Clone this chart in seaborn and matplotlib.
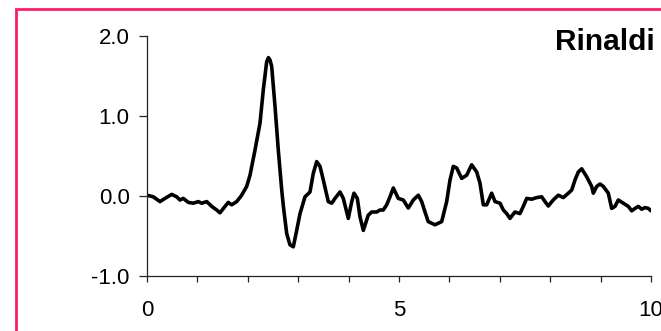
import matplotlib
matplotlib.use("Agg")
import matplotlib.pyplot as plt
import matplotlib.patches as mpatches
import numpy as np
import pandas as pd
import seaborn as sns

# Spectrum trace
x_vals = [0.0, 0.125, 0.258, 0.357, 0.49, 0.589, 0.655, 0.72, 0.82, 0.919,
          1.018, 1.085, 1.185, 1.284, 1.383, 1.448, 1.548, 1.613, 1.68, 1.78,
          1.879, 1.978, 2.044, 2.143, 2.242, 2.308, 2.375, 2.41, 2.44, 2.474,
          2.54, 2.605, 2.673, 2.706, 2.772, 2.837, 2.903, 2.97, 3.036, 3.135,
          3.234, 3.30, 3.367, 3.433, 3.498, 3.597, 3.665, 3.73, 3.829, 3.895,
          3.994, 4.062, 4.107, 4.173, 4.226, 4.292, 4.39, 4.458, 4.558, 4.623,
          4.688, 4.756, 4.821, 4.887, 4.986, 5.085, 5.185, 5.284, 5.383, 5.45,
          5.516, 5.58, 5.714, 5.847, 5.946, 6.012, 6.077, 6.145, 6.244, 6.343,
          6.442, 6.542, 6.607, 6.673, 6.74, 6.839, 6.905, 7.004, 7.07, 7.137,
          7.202, 7.30, 7.40, 7.466, 7.534, 7.633, 7.732, 7.831, 7.897, 7.962,
          8.06, 8.161, 8.26, 8.359, 8.427, 8.492, 8.558, 8.625, 8.724, 8.823,
          8.855, 8.923, 8.988, 9.054, 9.153, 9.22, 9.286, 9.351, 9.45, 9.55,
          9.617, 9.683, 9.748, 9.815, 9.881, 9.947, 10.0]
y_vals = [0.01, -0.01, -0.07, -0.03, 0.02, -0.01, -0.05, -0.03, -0.08, -0.09,
          -0.07, -0.09, -0.07, -0.13, -0.175, -0.21, -0.13, -0.08, -0.11, -0.07,
          0.01, 0.12, 0.26, 0.575, 0.91, 1.33, 1.68, 1.73, 1.70, 1.62,
          1.12, 0.575, 0.075, -0.13, -0.47, -0.61, -0.635, -0.43, -0.22, -0.01,
          0.05, 0.285, 0.43, 0.37, 0.20, -0.07, -0.09, -0.03, 0.05, -0.03,
          -0.28, -0.07, 0.035, -0.03, -0.26, -0.43, -0.24, -0.20, -0.20, -0.175,
          -0.175, -0.11, -0.01, 0.10, -0.03, -0.05, -0.15, -0.05, 0.01, -0.07,
          -0.20, -0.32, -0.36, -0.32, -0.07, 0.20, 0.37, 0.35, 0.22, 0.26,
          0.39, 0.30, 0.16, -0.11, -0.11, 0.035, -0.07, -0.09, -0.175, -0.22,
          -0.28, -0.20, -0.22, -0.13, -0.03, -0.04, -0.02, -0.01, -0.07, -0.125,
          -0.05, 0.01, -0.02, 0.035, 0.075, 0.20, 0.30, 0.34, 0.24, 0.12,
          0.035, 0.12, 0.15, 0.12, 0.035, -0.155, -0.13, -0.05, -0.09, -0.13,
          -0.185, -0.155, -0.13, -0.165, -0.145, -0.155, -0.185]

x_ticks = [0, 1, 2, 3, 4, 5, 6, 7, 8, 9, 10]
x_labels = ["0", "", "", "", "", "5", "", "", "", "", "10"]
y_ticks = [-1.0, 0.0, 1.0, 2.0]
y_labels = ["-1.0", "0.0", "1.0", "2.0"]
title = "Rinaldi"

sns.set_theme(style="ticks")
plt.rcParams["font.family"] = ["Liberation Sans", "DejaVu Sans"]

W, H = 661, 331
fig = plt.figure(figsize=(W / 100, H / 100), dpi=100)
fig.patch.set_facecolor("white")

ax = fig.add_axes([147 / W, 1 - 276 / H, (651 - 147) / W, (276 - 36) / H])
ax.set_facecolor("white")

df = pd.DataFrame({"x": x_vals, "y": y_vals})
sns.lineplot(data=df, x="x", y="y", ax=ax, color="black", linewidth=2.6,
             estimator=None, sort=False)

ax.set_xlim(0, 10)
ax.set_ylim(-1, 2)
ax.set_xticks(x_ticks)
ax.set_xticklabels(x_labels)
ax.set_yticks(y_ticks)
ax.set_yticklabels(y_labels)
ax.set_xlabel("")
ax.set_ylabel("")

for side in ("top", "right"):
    ax.spines[side].set_visible(False)
for side in ("left", "bottom"):
    ax.spines[side].set_color("#222222")
    ax.spines[side].set_linewidth(0.9)

ax.tick_params(axis="x", direction="out", length=4, width=0.9, color="#222222",
               labelsize=16, pad=13, labelcolor="black")
ax.tick_params(axis="y", direction="out", length=5.5, width=0.9, color="#222222",
               labelsize=16, pad=7, labelcolor="black")

fig.text(655 / W, 1 - 50 / H, title, ha="right", va="baseline",
         fontsize=21.5, fontweight="bold", color="black")

# Pink frame around the panel
frame = mpatches.Rectangle((15.7 / W, -0.2), 1.2, 1.2 - 8.7 / H,
                           transform=fig.transFigure, fill=False,
                           edgecolor="#FF1A6E", linewidth=2.0, clip_on=False)
fig.patches.append(frame)

fig.savefig("out.png", dpi=100, facecolor="white")
